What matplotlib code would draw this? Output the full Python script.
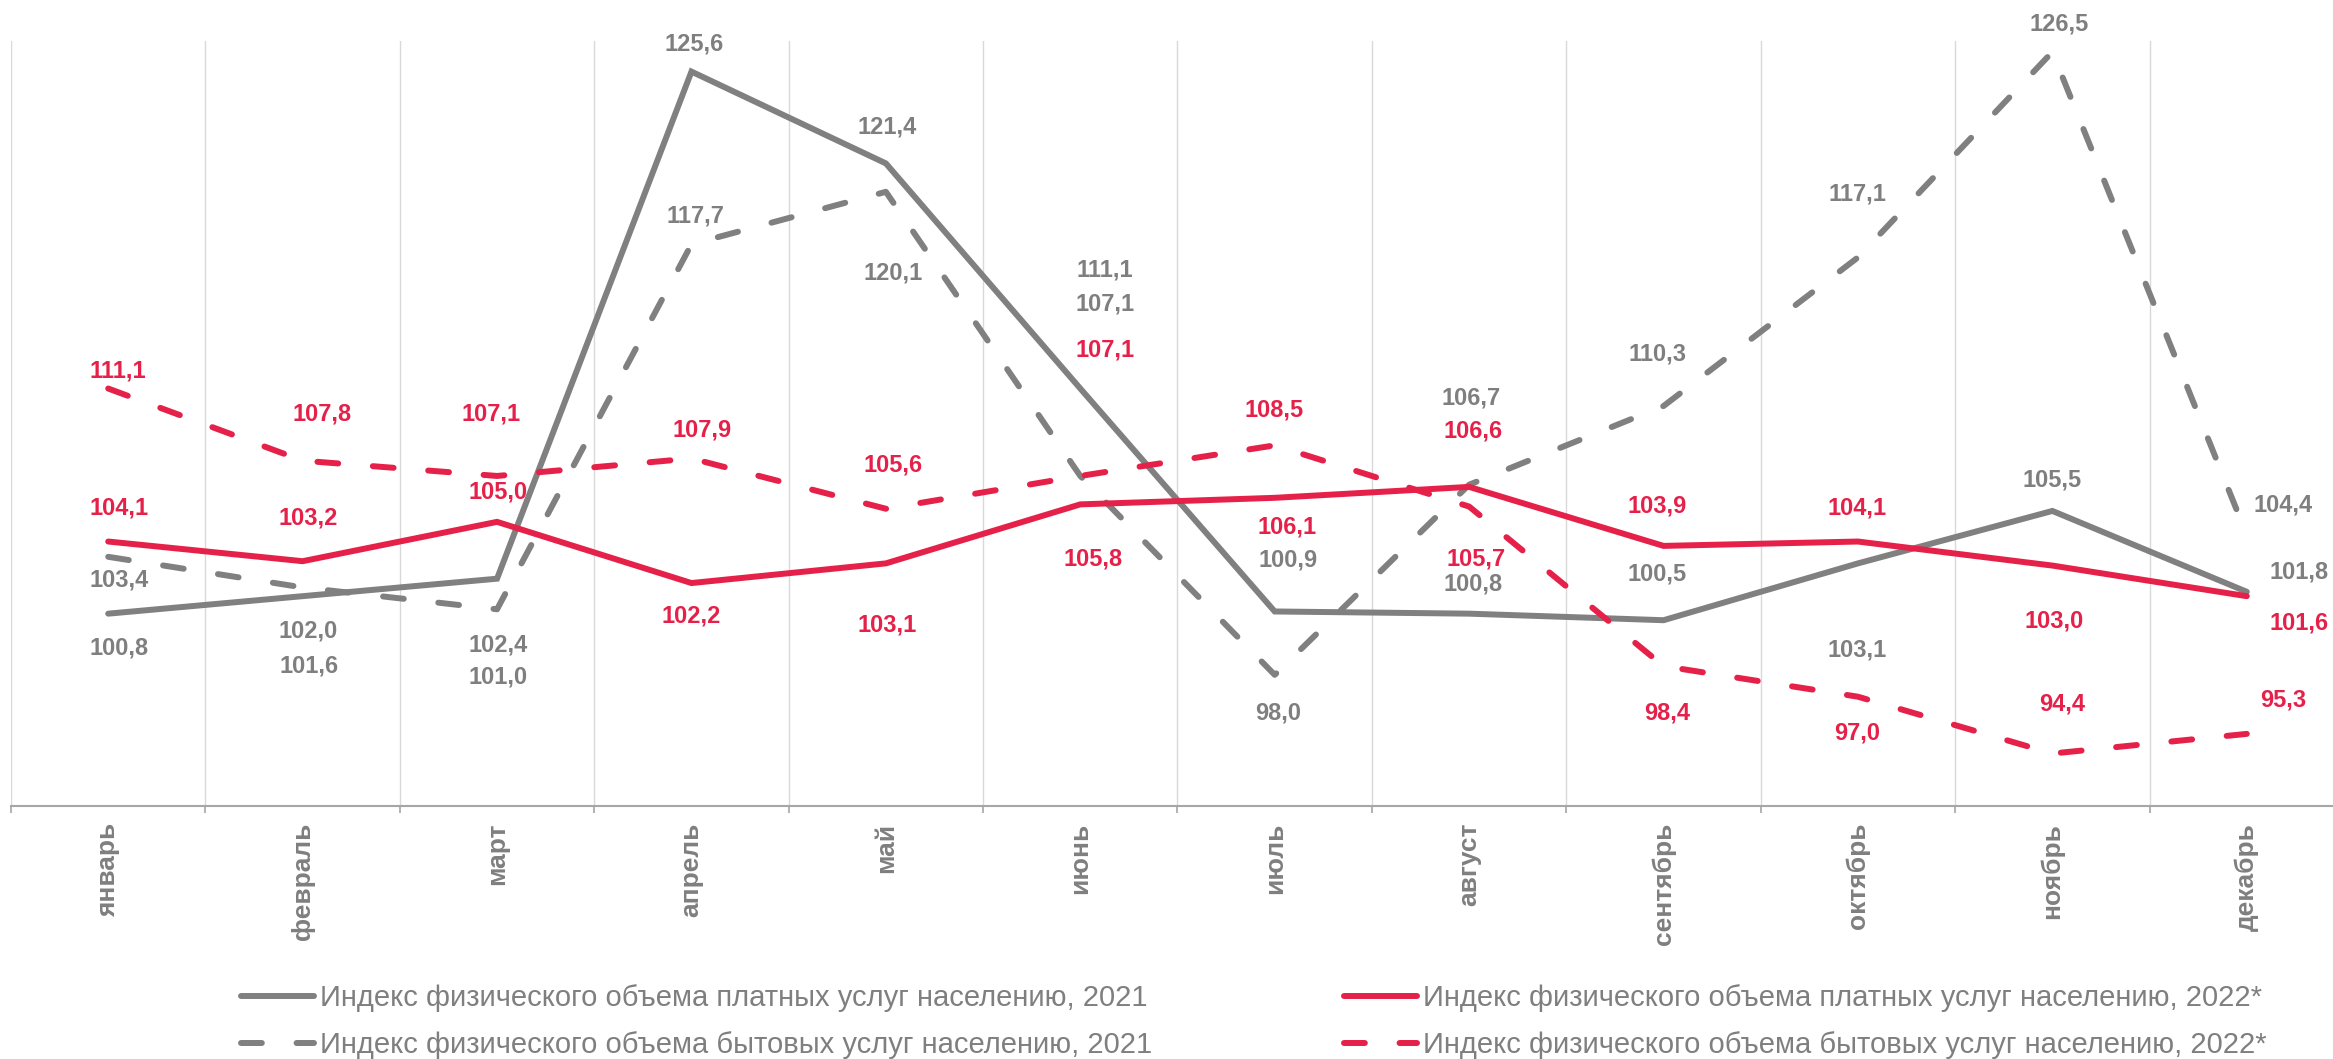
import matplotlib
matplotlib.use('Agg')
import matplotlib.pyplot as plt
import numpy as np

plt.rcParams['font.family'] = ['Liberation Sans', 'DejaVu Sans']
plt.rcParams['lines.scale_dashes'] = False

# данные
months = ['январь', 'февраль', 'март', 'апрель', 'май', 'июнь', 'июль',
          'август', 'сентябрь', 'октябрь', 'ноябрь', 'декабрь']
paid_2021 = [100.8, 101.6, 102.4, 125.6, 121.4, 111.1, 100.9, 100.8, 100.5, 103.1, 105.5, 101.8]
household_2021 = [103.4, 102.0, 101.0, 117.7, 120.1, 107.1, 98.0, 106.7, 110.3, 117.1, 126.5, 104.4]
paid_2022 = [104.1, 103.2, 105.0, 102.2, 103.1, 105.8, 106.1, 106.6, 103.9, 104.1, 103.0, 101.6]
household_2022 = [111.1, 107.8, 107.1, 107.9, 105.6, 107.1, 108.5, 105.7, 98.4, 97.0, 94.4, 95.3]

names = ['Индекс физического объема платных услуг населению, 2021',
         'Индекс физического объема бытовых услуг населению, 2021',
         'Индекс физического объема платных услуг населению, 2022*',
         'Индекс физического объема бытовых услуг населению, 2022*']

# сдвиги подписей (пиксели: вправо, вверх)
off_paid_2021 = [(11, -34), (6, -70), (1, -66), (3, 28), (1, 36), (25, 119),
                 (13, 51), (4, 30), (-6, 46), (-1, -87), (0, 31), (52, 20)]
off_household_2021 = [(11, -23), (6, -44), (1, -68), (4, 28), (7, -81), (25, 172),
                      (3, -38), (2, 87), (-6, 52), (-1, 63), (7, 28), (36, 30)]
off_paid_2022 = [(11, 34), (6, 43), (1, 30), (0, -33), (1, -62), (13, -55),
                 (12, -29), (4, 56), (-6, 40), (-1, 34), (2, -55), (52, -27)]
off_household_2022 = [(10, 18), (19, 47), (-6, 62), (11, 28), (7, 44), (25, 126),
                      (-1, 35), (7, -52), (4, -47), (-1, -36), (10, 50), (36, 34)]

GRAY = '#808080'
RED = '#E5214A'
TXT_GRAY = '#7F7F7F'

fig = plt.figure(figsize=(23.33, 10.59), dpi=100)
ax = fig.add_axes([11 / 2333, 1 - 806 / 1059, 2333 / 2333, 765 / 1059])

x = np.arange(len(months))
dash = (15, 25)
series = [
    (paid_2021, GRAY, '-', off_paid_2021),
    (household_2021, GRAY, '--', off_household_2021),
    (paid_2022, RED, '-', off_paid_2022),
    (household_2022, RED, '--', off_household_2022),
]

handles = []
for (vals, col, ls, offs), name in zip(series, names):
    if ls == '--':
        ln, = ax.plot(x, vals, color=col, lw=4.3, dashes=dash,
                      dash_capstyle='round', solid_capstyle='round', clip_on=False, label=name)
    else:
        ln, = ax.plot(x, vals, color=col, lw=4.3, solid_joinstyle='miter',
                      solid_capstyle='round', clip_on=False, label=name)
    handles.append(ln)
    for xi, v, (dx, dy) in zip(x, vals, offs):
        ax.annotate(f'{v:.1f}'.replace('.', ','), (xi, v),
                    xytext=(dx * 0.72, dy * 0.72), textcoords='offset points',
                    ha='center', va='center', fontsize=17, fontweight='bold',
                    color=TXT_GRAY if col == GRAY else RED)

ax.set_xlim(-0.5, len(months) - 0.5)
ax.set_ylim(92, 127)

bounds = np.arange(len(months) + 1) - 0.5
for b in bounds:
    ax.axvline(b, color='#D9D9D9', lw=1, zorder=0)

for s in ['top', 'right', 'left']:
    ax.spines[s].set_visible(False)
ax.spines['bottom'].set_color('#A6A6A6')
ax.spines['bottom'].set_linewidth(1.5)
ax.set_yticks([])

ax.set_xticks(bounds)
ax.set_xticklabels([])
ax.tick_params(axis='x', which='major', length=5, width=1.2, color='#A6A6A6')
ax.set_xticks(x, minor=True)
ax.set_xticklabels(months, minor=True, rotation=90, fontsize=19,
                   fontweight='bold', color=TXT_GRAY)
ax.tick_params(axis='x', which='minor', length=0, pad=12)

leg = fig.legend(handles=handles, ncol=2, loc='center',
                 bbox_to_anchor=(0.5375, 0.0355), frameon=False, fontsize=21,
                 handlelength=2.5, handletextpad=0.2, columnspacing=6.6,
                 labelspacing=0.66, labelcolor=TXT_GRAY)

fig.savefig('out.png', dpi=100)
